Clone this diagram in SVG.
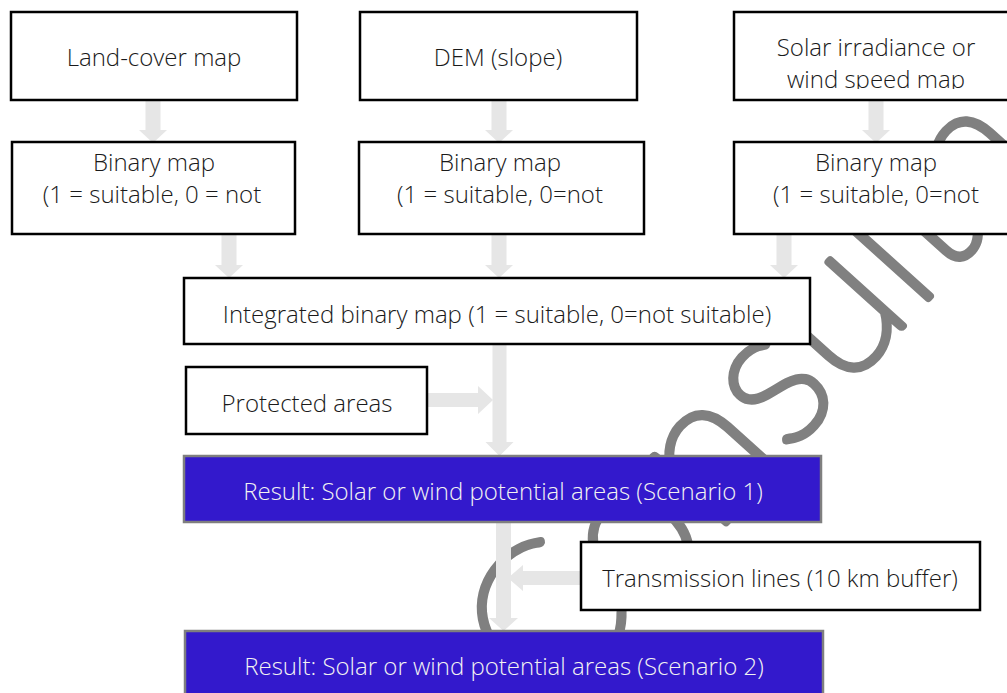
<svg xmlns="http://www.w3.org/2000/svg" width="1007" height="693" viewBox="0 0 1007 693">
<style>
.box{fill:#fff;stroke:#000;stroke-width:2.5}
.res{fill:#3319cc;stroke:#7f7f7f;stroke-width:2.5}
.t{font-family:"Open Sans","Noto Sans","DejaVu Sans",sans-serif;font-size:24px;font-weight:300;fill:#1a1a1a;text-anchor:middle}
.tw{fill:#f2f2f2}
.arr{fill:#e6e6e6}
.wm{font-family:Lato,"DejaVu Sans",sans-serif;font-size:200px;font-weight:100;fill:none;stroke:#808080;stroke-width:8;stroke-linejoin:round}
</style>
<defs>
<clipPath id="clipSolar"><rect x="734" y="12" width="290" height="77"/></clipPath>
</defs>
<rect width="1007" height="693" fill="#fff"/>
<g id="watermark"><text class="wm" transform="translate(550,718) rotate(-48)">Consulta</text></g>
<g id="connectors">
<path class="arr" d="M145.5,101 H160.5 V130 H167 L153,143 L139,130 H145.5 Z"/>
<path class="arr" d="M491.5,101 H506.5 V130 H513 L499,143 L485,130 H491.5 Z"/>
<path class="arr" d="M868.5,101 H883.5 V130 H890 L876,143 L862,130 H868.5 Z"/>
<path class="arr" d="M221.5,235 H236.5 V265 H243 L229,278 L215,265 H221.5 Z"/>
<path class="arr" d="M491.5,235 H506.5 V265 H513 L499,278 L485,265 H491.5 Z"/>
<path class="arr" d="M776.5,235 H791.5 V265 H798 L784,278 L770,265 H776.5 Z"/>
<path class="arr" d="M492.5,345 H506.5 V442 H513.5 L499.5,456 L485.5,442 H492.5 Z"/>
<path class="arr" d="M428,393 H478 V386 L493,400 L478,414 V407 H428 Z"/>
<path class="arr" d="M496,523 H511 V618 H518 L503.5,631 L489,618 H496 Z"/>
<path class="arr" d="M580,571 H523 V565 L508,578 L523,591 V585 H580 Z"/>
</g>
<g id="n-landcover"><rect class="box" x="11" y="12" width="286" height="88"/><text class="t" x="154" y="66">Land-cover map</text></g>
<g id="n-dem"><rect class="box" x="360" y="12" width="277" height="88"/><text class="t" x="498" y="66">DEM (slope)</text></g>
<g id="n-solar"><rect class="box" x="734" y="12" width="284" height="88"/><text class="t" x="876" y="56">Solar irradiance or</text><text class="t" x="876" y="88" clip-path="url(#clipSolar)">wind speed map</text></g>
<g id="n-binary1"><rect class="box" x="12" y="142" width="283" height="92"/><text class="t" x="154" y="171">Binary map</text><text class="t" x="152" y="203">(1 = suitable, 0 = not</text></g>
<g id="n-binary2"><rect class="box" x="359" y="142" width="285" height="92"/><text class="t" x="500" y="171">Binary map</text><text class="t" x="500" y="203">(1 = suitable, 0=not</text></g>
<g id="n-binary3"><rect class="box" x="734" y="142" width="284" height="92"/><text class="t" x="876" y="171">Binary map</text><text class="t" x="876" y="203">(1 = suitable, 0=not</text></g>
<g id="n-integrated"><rect class="box" x="184" y="278" width="626" height="66"/><text class="t" x="497" y="323">Integrated binary map (1 = suitable, 0=not suitable)</text></g>
<g id="n-protected"><rect class="box" x="186" y="367" width="241" height="67"/><text class="t" x="307" y="412">Protected areas</text></g>
<g id="n-result1"><rect class="res" x="184" y="456" width="637" height="66"/><text class="t tw" x="503" y="500">Result: Solar or wind potential areas (Scenario 1)</text></g>
<g id="n-transmission"><rect class="box" x="581" y="542" width="399" height="68"/><text class="t" x="780" y="587">Transmission lines (10 km buffer)</text></g>
<g id="n-result2"><rect class="res" x="185" y="631" width="638" height="75"/><text class="t tw" x="504" y="675">Result: Solar or wind potential areas (Scenario 2)</text></g>
</svg>
